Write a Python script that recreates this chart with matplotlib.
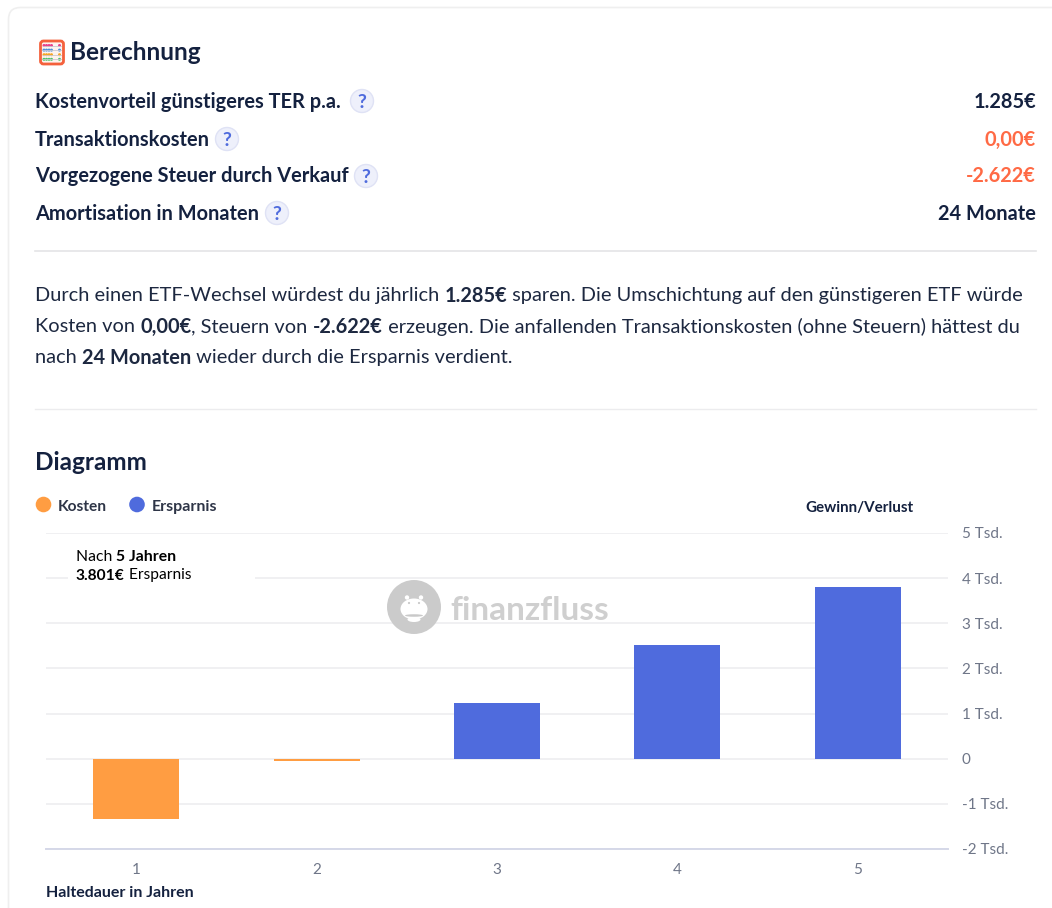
import matplotlib
matplotlib.use("Agg")
import matplotlib.pyplot as plt
from matplotlib.patches import Circle, FancyBboxPatch, Rectangle, Ellipse

W, H = 1052, 908
FONT = ["Lato", "DejaVu Sans"]
NAVY = "#14213f"
RED = "#ff6a45"
ORANGE = "#ff9d42"
BLUE = "#4f6bdd"
GREY = "#6f7688"

years = [1, 2, 3, 4, 5]
values = [-1337, -52, 1233, 2516, 3801]
y_ticks = [-2000, -1000, 0, 1000, 2000, 3000, 4000, 5000]
y_labels = ["-2 Tsd.", "-1 Tsd.", "0", "1 Tsd.", "2 Tsd.", "3 Tsd.", "4 Tsd.", "5 Tsd."]

row_labels = ["Kostenvorteil günstigeres TER p.a.", "Transaktionskosten",
              "Vorgezogene Steuer durch Verkauf", "Amortisation in Monaten"]
row_values = ["1.285€", "0,00€", "-2.622€", "24 Monate"]
row_colors = [NAVY, RED, RED, NAVY]
row_ys = [99.5, 137.5, 174.5, 211.5]
help_xs = [362, 227, 366, 277]

# (text, bold) runs
para_lines = [
    [("Durch einen ETF-Wechsel würdest du jährlich ", False), ("1.285€", True),
     (" sparen. Die Umschichtung auf den günstigeren ETF würde", False)],
    [("Kosten von ", False), ("0,00€", True), (", Steuern von ", False), ("-2.622€", True),
     (" erzeugen. Die anfallenden Transaktionskosten (ohne Steuern) hättest du", False)],
    [("nach ", False), ("24 Monaten", True), (" wieder durch die Ersparnis verdient.", False)],
]
para_ys = [294, 325, 356]

fig = plt.figure(figsize=(W / 100, H / 100), dpi=100, facecolor="white")

# Hintergrund mit Karte
bg = fig.add_axes([0, 0, 1, 1], zorder=0)
bg.set_xlim(0, W)
bg.set_ylim(H, 0)
bg.axis("off")
bg.add_patch(FancyBboxPatch((8.5, 7.5), 1100, 1000, boxstyle="round,pad=0,rounding_size=12",
                            fc="white", ec="#efefef", lw=1.2))

# Balkendiagramm
ax = fig.add_axes([46 / W, 1 - 849 / H, 902 / W, 316 / H], zorder=1)
ax.patch.set_alpha(0)
colors = [ORANGE if v < 0 else BLUE for v in values]
ax.bar(years, values, width=0.477, color=colors, zorder=3)
ax.set_xlim(0.5, 5.5)
ax.set_ylim(-2000, 5000)
ax.set_xticks(years)
ax.set_yticks(y_ticks)
ax.set_yticklabels(y_labels)
ax.yaxis.tick_right()
ax.tick_params(length=0, labelsize=11, labelcolor=GREY, pad=10)
ax.tick_params(axis="x", pad=10)
for lab in ax.get_xticklabels() + ax.get_yticklabels():
    lab.set_family(FONT)
ax.grid(axis="y", color="#eeeef0", lw=1.2, zorder=0)
ax.set_axisbelow(True)
for name in ["top", "left", "right"]:
    ax.spines[name].set_visible(False)
ax.spines["bottom"].set_color("#d5d8e8")
ax.spines["bottom"].set_linewidth(1.4)

# Texte in Pixelkoordinaten
ov = fig.add_axes([0, 0, 1, 1], zorder=2)
ov.set_xlim(0, W)
ov.set_ylim(H, 0)
ov.axis("off")


def put(x, y, s, size, bold=False, color=NAVY, ha="left", **kw):
    return ov.text(x, y, s, fontsize=size, color=color, ha=ha, va="center_baseline",
                   fontweight="bold" if bold else "normal", family=FONT, **kw)


def put_runs(x, y, runs, size, color=NAVY):
    renderer = fig.canvas.get_renderer()
    for s, bold in runs:
        # Leerzeichen am Rand werden nicht mitgemessen
        t = put(x, y, s.replace(" ", "\u00a0"), size, bold, color)
        x = ov.transData.inverted().transform(t.get_window_extent(renderer).get_points())[1][0]


def help_badge(x, y):
    ov.add_patch(Circle((x, y), 11.5, fc="#eef0fb", ec="#dfe2f5", lw=1))
    put(x, y, "?", 14, True, "#4f6bdd", ha="center")


def abacus(x, y):
    ov.add_patch(FancyBboxPatch((x + 1.5, y + 1.5), 23, 23, boxstyle="round,pad=0,rounding_size=3",
                                fc="#fdf3ef", ec="#f4613c", lw=2))
    for i, c in enumerate(["#e8408a", "#4a8fdc", "#f5a623", "#4cc36a"]):
        yy = y + 6 + i * 4.6
        ov.plot([x + 4, x + 22], [yy, yy], color="#c9c9d2", lw=0.6)
        for dx in [5, 7.5, 10, 12.5, 20.5]:
            ov.add_patch(Circle((x + dx, yy), 1.5, fc=c, ec="none"))


abacus(39, 39.5)
put(70, 51, "Berechnung", 17.5, True)

for label, value, col, yy, hx in zip(row_labels, row_values, row_colors, row_ys, help_xs):
    put(35, yy, label, 14.45, True)
    put(1036, yy, value, 14.4, True, col, ha="right")
    help_badge(hx, yy + 1.5)

ov.plot([35, 1036], [250.5, 250.5], color="#e4e4e6", lw=1.2)
for runs, yy in zip(para_lines, para_ys):
    put_runs(35, yy, runs, 14.4, "#1d2840")
ov.plot([35, 1036], [409, 409], color="#ececee", lw=1)

put(35, 461, "Diagramm", 17.5, True)

# Legende
ov.add_patch(Circle((43.5, 504.5), 7.8, fc=ORANGE, ec="none"))
put(58, 505.5, "Kosten", 11.2, True, "#2e3547")
ov.add_patch(Circle((137, 504.5), 7.8, fc=BLUE, ec="none"))
put(152, 505.5, "Ersparnis", 11.5, True, "#2e3547")

put(805, 506.5, "Gewinn/Verlust", 10.9, True)
put(46, 891.5, "Haltedauer in Jahren", 11.5, True)

# Tooltip
ov.add_patch(Rectangle((68, 545), 187, 37, fc="white", ec="none"))
put_runs(76, 555.5, [("Nach ", False), ("5 Jahren", True)], 11.3, "black")
put_runs(76, 574, [("3.801€", True), (" Ersparnis", False)], 11.2, "black")

# Wasserzeichen
ov.add_patch(Circle((414, 607), 27, fc="#c9c9c9", ec="none", alpha=0.95))
ov.add_patch(Ellipse((414, 609), 27, 21, fc="white", ec="none"))
ov.add_patch(Circle((407, 597.5), 2.2, fc="white", ec="none"))
ov.add_patch(Circle((421, 597.5), 2.2, fc="white", ec="none"))
ov.add_patch(Ellipse((414, 619.5), 13, 5, fc="white", ec="none"))
ov.add_patch(Circle((409, 603), 1.1, fc="#c9c9c9", ec="none"))
ov.add_patch(Circle((419, 603), 1.1, fc="#c9c9c9", ec="none"))
ov.add_patch(Ellipse((414, 615.5), 18, 2.5, fc="#c9c9c9", ec="none"))
put(450, 608, "finanzfluss", 24, True, "#cfcfcf")

fig.savefig("out.png", dpi=100)
plt.close()
